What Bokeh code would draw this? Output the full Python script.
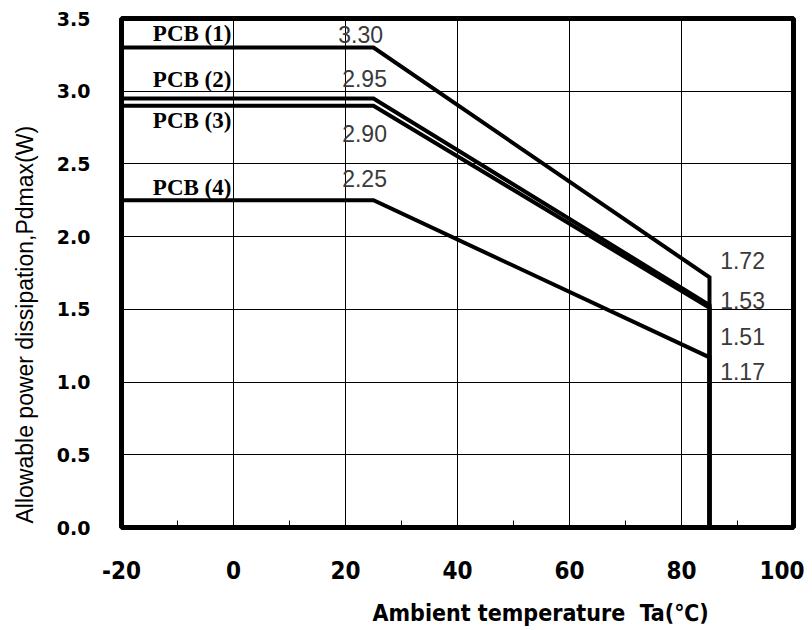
from bokeh.plotting import figure
from bokeh.models import FixedTicker, PrintfTickFormatter, Title
from bokeh.core.properties import value
from bokeh.embed import file_html
from bokeh.resources import INLINE

# ---- data ----
pcb_names = ["PCB (1)", "PCB (2)", "PCB (3)", "PCB (4)"]
pd_max = [3.30, 2.95, 2.90, 2.25]      # W, flat part (Ta <= 25)
pd_85 = [1.72, 1.53, 1.51, 1.17]       # W, at Ta = 85
ta_start, ta_knee, ta_end = -20, 25, 85
x_ticks = [-20, 0, 20, 40, 60, 80, 100]
x_minor = [-10, 10, 30, 50, 70, 90]
x_grid = [0, 20, 40, 60, 80]
y_ticks = [0.0, 0.5, 1.0, 1.5, 2.0, 2.5, 3.0, 3.5]
x_title = "Ambient temperature\u00a0\u00a0Ta(\u2103)"
y_title = "Allowable power dissipation,Pdmax(W)"

# ---- label placement (layout only) ----
name_x = -14.4
name_y = [3.40, 3.08, 2.80, 2.335]
left_val_x = [22.7, 23.4, 23.4, 23.4]
left_val_y = [3.39, 3.09, 2.71, 2.40]
right_val_x = 90.9
right_val_y = [1.835, 1.56, 1.315, 1.07]

p = figure(width=804, height=630, x_range=(-20, 100), y_range=(0, 3.5),
           output_backend="svg", toolbar_location=None,
           min_border_left=121, min_border_right=11, min_border_top=18,
           min_border_bottom=103)
p.background_fill_color = "white"
p.border_fill_color = "white"
p.outline_line_color = "black"
p.outline_line_width = 5

# axes
p.xaxis.ticker = FixedTicker(ticks=x_ticks, minor_ticks=x_minor)
p.xaxis.major_label_overrides = {t: str(t) for t in x_ticks}
p.yaxis.ticker = FixedTicker(ticks=y_ticks)
p.yaxis.formatter = PrintfTickFormatter(format="%.1f")
for ax in (p.xaxis[0], p.yaxis[0]):
    ax.axis_line_color = None
    ax.major_tick_in = 0
    ax.major_tick_out = 0
    ax.major_label_text_color = "black"
    # invisible spacer label to push the titles outward a little
    ax.axis_label = "\u00a0"
    ax.axis_label_text_font_size = "1px"
    ax.axis_label_standoff = 7
p.xaxis.minor_tick_in = 7
p.xaxis.minor_tick_out = 0
p.xaxis.minor_tick_line_color = "black"
p.xaxis.minor_tick_line_width = 1
p.yaxis.minor_tick_line_color = None

p.xaxis.major_label_text_font = "DejaVu Sans Condensed"
p.xaxis.major_label_text_font_style = "bold"
p.xaxis.major_label_text_font_size = "24px"
p.xaxis.major_label_standoff = 33

p.yaxis.major_label_text_font = "DejaVu Sans"
p.yaxis.major_label_text_font_style = "bold"
p.yaxis.major_label_text_font_size = "19px"
p.yaxis.major_label_standoff = 31

# axis titles (placed off-centre as in the original)
p.add_layout(Title(text=x_title, align="left", offset=251,
                   text_font="DejaVu Sans Condensed", text_font_style="bold",
                   text_font_size="23px", text_color="black"), "below")
p.add_layout(Title(text=y_title, align="left", offset=4,
                   text_font="Liberation Sans", text_font_style="normal",
                   text_font_size="23px", text_color="black"), "left")

# grid
p.xgrid.ticker = FixedTicker(ticks=x_grid)
p.ygrid.ticker = FixedTicker(ticks=y_ticks[1:-1])
for g in (p.xgrid[0], p.ygrid[0]):
    g.grid_line_color = "black"
    g.grid_line_width = 1
    g.grid_line_alpha = 1.0

# curves
for top, end in zip(pd_max, pd_85):
    p.line([ta_start, ta_knee, ta_end, ta_end], [top, top, end, 0.0],
           line_color="black", line_width=4, line_join="miter")

# labels
p.text(x=[name_x] * 4, y=name_y, text=pcb_names,
       text_font=value("Liberation Serif"), text_font_style="bold",
       text_font_size="23px", text_align="left", text_baseline="middle",
       text_color="black")
p.text(x=left_val_x, y=left_val_y, text=[f"{v:.2f}" for v in pd_max],
       text_font=value("Liberation Sans"), text_font_size="23px",
       text_align="center", text_baseline="middle", text_color="#3a3a3a")
p.text(x=[right_val_x] * 4, y=right_val_y, text=[f"{v:.2f}" for v in pd_85],
       text_font=value("Liberation Sans"), text_font_size="23px",
       text_align="center", text_baseline="middle", text_color="#3a3a3a")

open("out.html", "w").write(file_html(p, INLINE))
